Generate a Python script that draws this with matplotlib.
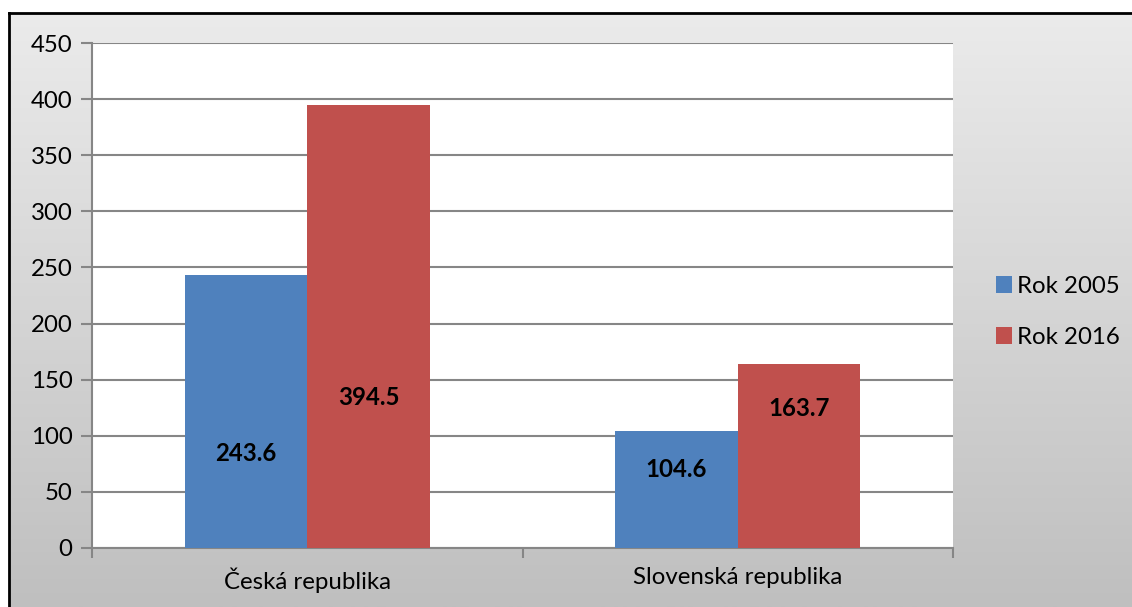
import matplotlib
matplotlib.use("Agg")
import matplotlib.pyplot as plt
import numpy as np
from matplotlib.lines import Line2D
from matplotlib.patches import Patch
from matplotlib.colors import LinearSegmentedColormap

categories = ["Česká republika", "Slovenská republika"]
series_names = ["Rok 2005", "Rok 2016"]
rok_2005 = [243.6, 104.6]
rok_2016 = [394.5, 163.7]
label_heights_2005 = [84, 70]
label_heights_2016 = [134, 124]
colors = ["#4F81BD", "#C0504D"]

FS = 17.3
W, H = 1132, 607
fig = plt.figure(figsize=(W / 100, H / 100), dpi=100)
fig.patch.set_facecolor("white")

# gradient background inside the frame
bx0, by_top = 9, 13
bg = fig.add_axes([bx0 / W, 0, 1 - bx0 / W, (H - by_top) / H], zorder=0)
grad = np.linspace(0, 1, 256).reshape(-1, 1)
cmap = LinearSegmentedColormap.from_list("g", ["#ebebeb", "#bfbfbf"])
bg.imshow(grad, aspect="auto", cmap=cmap, extent=[0, 1, 1, 0])
bg.set_axis_off()

# frame lines
fig.add_artist(Line2D([bx0 / W, bx0 / W], [0, (H - by_top) / H], color="black", lw=2, transform=fig.transFigure, zorder=5))
fig.add_artist(Line2D([bx0 / W, 1], [(H - by_top) / H, (H - by_top) / H], color="black", lw=2, transform=fig.transFigure, zorder=5))

ax = fig.add_axes([92 / W, (H - 548) / H, (953 - 92) / W, (548 - 43) / H], zorder=2)
ax.set_facecolor("white")
x = np.arange(len(categories))
bw = 0.285
ax.bar(x - bw / 2, rok_2005, bw, color=colors[0], zorder=3)
ax.bar(x + bw / 2, rok_2016, bw, color=colors[1], zorder=3)

for i in range(len(categories)):
    ax.text(x[i] - bw / 2, label_heights_2005[i], f"{rok_2005[i]:.1f}", ha="center", va="center",
            fontsize=FS, fontweight="bold", family="Lato", zorder=4)
    ax.text(x[i] + bw / 2, label_heights_2016[i], f"{rok_2016[i]:.1f}", ha="center", va="center",
            fontsize=FS, fontweight="bold", family="Lato", zorder=4)

ax.set_xlim(-0.5, len(categories) - 0.5)
ax.set_ylim(0, 450)
ax.set_yticks(np.arange(0, 451, 50))
ax.yaxis.grid(True, color="#868686", lw=1.5, zorder=1)
ax.set_axisbelow(True)
for s in ["top", "right"]:
    ax.spines[s].set_visible(False)
for s in ["left", "bottom"]:
    ax.spines[s].set_color("#868686")
    ax.spines[s].set_linewidth(1.5)

ax.set_xticks(x)
ax.set_xticklabels(categories, family="Lato", fontsize=FS)
ax.tick_params(axis="x", length=0, pad=14)
ax.set_xticks([-0.5, 0.5, 1.5], minor=True)
ax.tick_params(axis="x", which="minor", length=7, color="#868686", width=1.5)
ax.tick_params(axis="y", length=8, color="#868686", width=1.5, labelsize=FS, pad=6)
for t in ax.get_yticklabels():
    t.set_family("Lato")

handles = [Patch(facecolor=c) for c in colors]
fig.legend(handles, series_names, loc="center left", bbox_to_anchor=(986 / W, 1 - 312 / H),
           frameon=False, prop={"family": "Lato", "size": FS}, handlelength=0.7, handleheight=0.7,
           handletextpad=0.2, labelspacing=1.25, borderaxespad=0)

fig.savefig("out.png", dpi=100)
